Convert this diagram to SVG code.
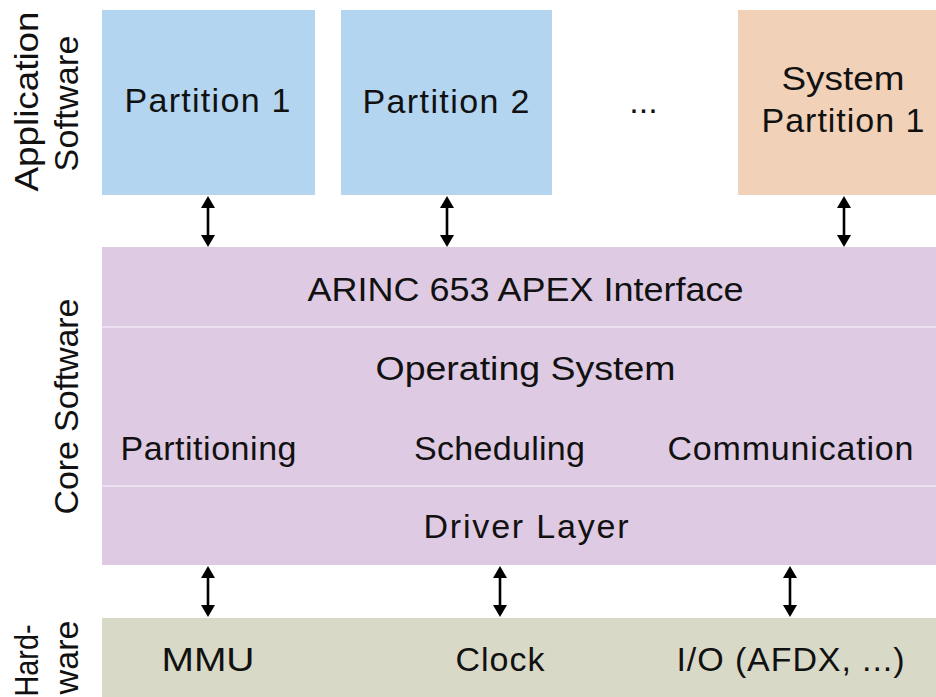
<svg xmlns="http://www.w3.org/2000/svg" width="936" height="697" viewBox="0 0 936 697">
<defs>
<style>
text{font-family:"Liberation Sans",Arial,sans-serif;font-size:34px;fill:#111}
.app{fill:#b3d5f0}
.sys{fill:#f2d1b9}
.core{fill:#dfcae3}
.hw{fill:#d9d9c7}
.sep{stroke:#ecdfef;stroke-width:2}
.arr{stroke:#000;stroke-width:2.6;fill:none;marker-start:url(#ah);marker-end:url(#ah)}
</style>
<marker id="ah" viewBox="0 0 12 14" refX="0" refY="7" markerWidth="12" markerHeight="14" markerUnits="userSpaceOnUse" orient="auto-start-reverse">
<path d="M0,0 L12,7 L0,14 z" fill="#000"/>
</marker>
</defs>
<rect width="936" height="697" fill="#fff"/>

<g id="label-app">
<text transform="translate(38,101.5) rotate(-90)" text-anchor="middle" textLength="180" lengthAdjust="spacingAndGlyphs">Application</text>
<text transform="translate(78,103.5) rotate(-90)" text-anchor="middle" textLength="136" lengthAdjust="spacing">Software</text>
</g>
<g id="label-core">
<text transform="translate(78,406.5) rotate(-90)" text-anchor="middle" textLength="216" lengthAdjust="spacing">Core Software</text>
</g>
<g id="label-hw">
<text transform="translate(38,660.5) rotate(-90)" text-anchor="middle" textLength="72" lengthAdjust="spacingAndGlyphs">Hard-</text>
<text transform="translate(78,657.5) rotate(-90)" text-anchor="middle" textLength="74" lengthAdjust="spacing">ware</text>
</g>

<g id="partition1">
<rect class="app" x="102" y="10" width="213" height="185"/>
<text x="124.5" y="112" textLength="166" lengthAdjust="spacing">Partition 1</text>
</g>
<g id="partition2">
<rect class="app" x="341" y="10" width="211" height="185"/>
<text x="362.5" y="113" textLength="167" lengthAdjust="spacing">Partition 2</text>
</g>
<g id="ellipsis">
<text x="643.5" y="113" text-anchor="middle">...</text>
</g>
<g id="system-partition1">
<rect class="sys" x="738" y="10" width="198" height="185"/>
<text x="781.5" y="90" textLength="123" lengthAdjust="spacingAndGlyphs">System</text>
<text x="761.5" y="132" textLength="163" lengthAdjust="spacing">Partition 1</text>
</g>

<g id="core">
<rect class="core" x="102" y="247" width="834" height="318"/>
<line class="sep" x1="102" y1="327" x2="936" y2="327"/>
<line class="sep" x1="102" y1="486" x2="936" y2="486"/>
<text x="307.5" y="301" textLength="436" lengthAdjust="spacingAndGlyphs">ARINC 653 APEX Interface</text>
<text x="375.5" y="380" textLength="300" lengthAdjust="spacingAndGlyphs">Operating System</text>
<text x="120.5" y="460" textLength="176" lengthAdjust="spacing">Partitioning</text>
<text x="414" y="460" textLength="171" lengthAdjust="spacing">Scheduling</text>
<text x="667.5" y="460" textLength="246" lengthAdjust="spacing">Communication</text>
<text x="423.5" y="538" textLength="205" lengthAdjust="spacing">Driver Layer</text>
</g>

<g id="hardware">
<rect class="hw" x="102" y="618" width="834" height="79"/>
<text x="161.5" y="671" textLength="93" lengthAdjust="spacingAndGlyphs">MMU</text>
<text x="455.5" y="671" textLength="89" lengthAdjust="spacing">Clock</text>
<text x="676.5" y="671" textLength="228" lengthAdjust="spacing">I/O (AFDX, ...)</text>
</g>

<g id="connectors">
<line class="arr" x1="208" y1="208" x2="208" y2="235"/>
<line class="arr" x1="447" y1="208" x2="447" y2="235"/>
<line class="arr" x1="844" y1="208" x2="844" y2="235"/>
<line class="arr" x1="208" y1="578" x2="208" y2="605"/>
<line class="arr" x1="500" y1="578" x2="500" y2="605"/>
<line class="arr" x1="790" y1="578" x2="790" y2="605"/>
</g>
</svg>
